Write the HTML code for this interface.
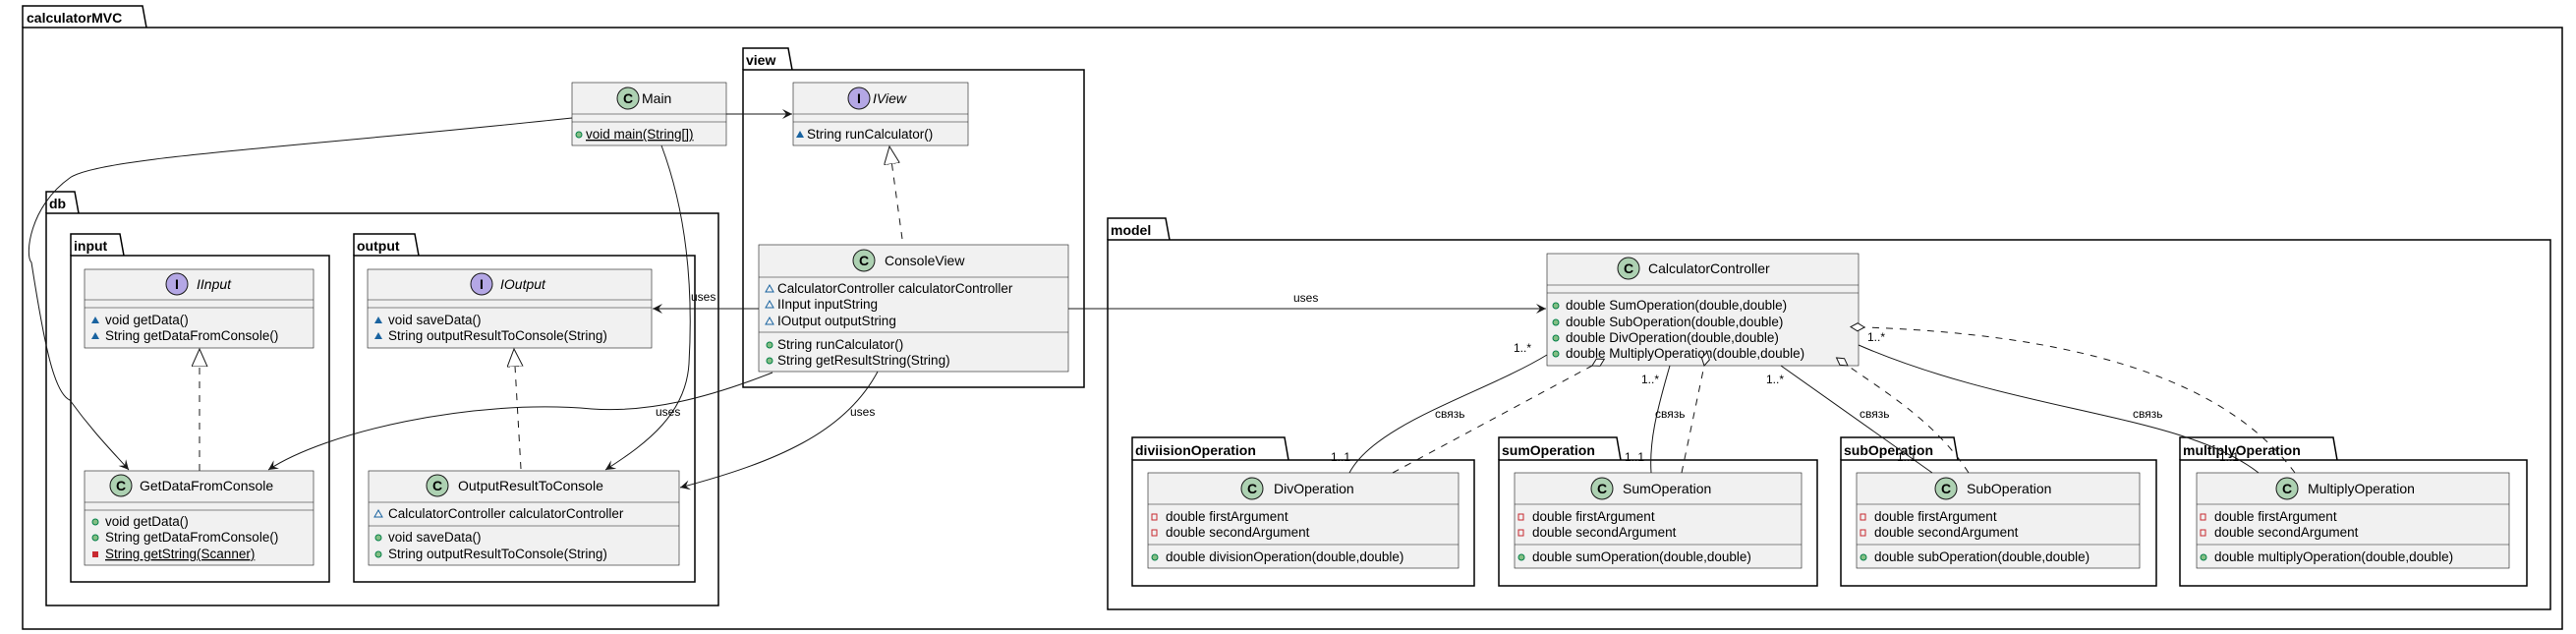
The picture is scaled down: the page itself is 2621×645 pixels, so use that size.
<!DOCTYPE html>
<html><head><meta charset="utf-8"><style>
html,body{margin:0;padding:0;background:#fff;}
svg{display:block;font-family:"Liberation Sans","DejaVu Sans",sans-serif;}
.pk{fill:none;stroke:#000;stroke-width:1.5;}
.pt{font-weight:bold;font-size:14px;fill:#000;}
.bx{fill:#F1F1F1;stroke:#181818;stroke-width:0.6;}
.sp{stroke:#181818;stroke-width:0.6;}
.cn{font-size:14px;fill:#000;}
.m{font-size:13.5px;fill:#000;}
.ln{fill:none;stroke:#181818;stroke-width:1;}
.dl{fill:none;stroke:#181818;stroke-width:1;stroke-dasharray:7,7;}
.lb{font-size:12px;fill:#000;}
.pub{fill:#84BE84;stroke:#038048;stroke-width:1;}
.prv{fill:none;stroke:#C82930;stroke-width:1;}
</style></head><body>
<svg width="2621" height="645" viewBox="0 0 2621 645" xmlns="http://www.w3.org/2000/svg">
<defs>
<marker id="ar" markerWidth="12" markerHeight="12" refX="10" refY="5" orient="auto" markerUnits="userSpaceOnUse"><path d="M0,0 L10,5 L0,10 L4,5 Z" fill="#181818"/></marker>
<marker id="tri" markerWidth="22" markerHeight="22" refX="18" refY="8" orient="auto" markerUnits="userSpaceOnUse"><path d="M0,0 L18,8 L0,16 Z" fill="#fff" stroke="#181818"/></marker>
<marker id="dia" markerWidth="22" markerHeight="14" refX="1" refY="5" orient="auto" markerUnits="userSpaceOnUse"><path d="M1,5 L8,1 L15,5 L8,9 Z" fill="#fff" stroke="#181818"/></marker>
</defs>

<!-- packages -->
<path class="pk" d="M23,28 L23,6 L145,6 L149,28"/><rect class="pk" x="23" y="28" width="2584" height="612"/><text class="pt" x="27" y="23">calculatorMVC</text>
<path class="pk" d="M756,71 L756,49 L802,49 L806,71"/><rect class="pk" x="756" y="71" width="347" height="323"/><text class="pt" x="759" y="66">view</text>
<path class="pk" d="M47,217 L47,195 L76,195 L80,217"/><rect class="pk" x="47" y="217" width="684" height="399"/><text class="pt" x="50" y="212">db</text>
<path class="pk" d="M72,260 L72,238 L122,238 L126,260"/><rect class="pk" x="72" y="260" width="263" height="332"/><text class="pt" x="75" y="255">input</text>
<path class="pk" d="M360,260 L360,238 L422,238 L426,260"/><rect class="pk" x="360" y="260" width="347" height="332"/><text class="pt" x="363" y="255">output</text>
<path class="pk" d="M1127,244 L1127,222 L1186,222 L1190,244"/><rect class="pk" x="1127" y="244" width="1468" height="376"/><text class="pt" x="1130" y="239">model</text>
<path class="pk" d="M1152,468 L1152,445 L1307,445 L1311,468"/><rect class="pk" x="1152" y="468" width="348" height="128"/><text class="pt" x="1155" y="463">diviisionOperation</text>
<path class="pk" d="M1525,468 L1525,445 L1645,445 L1649,468"/><rect class="pk" x="1525" y="468" width="324" height="128"/><text class="pt" x="1528" y="463">sumOperation</text>
<path class="pk" d="M1873,468 L1873,445 L1988,445 L1992,468"/><rect class="pk" x="1873" y="468" width="321" height="128"/><text class="pt" x="1876" y="463">subOperation</text>
<path class="pk" d="M2218,468 L2218,445 L2374,445 L2378,468"/><rect class="pk" x="2218" y="468" width="353" height="128"/><text class="pt" x="2221" y="463">multiplyOperation</text>

<!-- Main -->
<rect class="bx" x="582" y="84" width="157" height="64"/><line class="sp" x1="582" y1="116" x2="739" y2="116"/><line class="sp" x1="582" y1="124" x2="739" y2="124"/>
<circle cx="639" cy="100" r="11" fill="#ADD1B2" stroke="#181818"/><text x="639" y="105" text-anchor="middle" font-size="14" font-weight="bold">C</text>
<text class="cn" x="653" y="105">Main</text>
<circle class="pub" cx="589" cy="137" r="3"/><text class="m" x="596" y="141" text-decoration="underline">void main(String[])</text>

<!-- IView -->
<rect class="bx" x="807" y="84" width="178" height="64"/><line class="sp" x1="807" y1="116" x2="985" y2="116"/><line class="sp" x1="807" y1="124" x2="985" y2="124"/>
<circle cx="874" cy="100" r="11" fill="#B4A7E5" stroke="#181818"/><text x="874" y="105" text-anchor="middle" font-size="14" font-weight="bold">I</text>
<text class="cn" x="888" y="105" font-style="italic">IView</text>
<path d="M810,140 L814,133 L818,140 Z" fill="#1963A0"/><text class="m" x="821" y="141">String runCalculator()</text>

<!-- ConsoleView -->
<rect class="bx" x="772" y="249" width="315" height="129"/><line class="sp" x1="772" y1="282" x2="1087" y2="282"/><line class="sp" x1="772" y1="338" x2="1087" y2="338"/>
<circle cx="879" cy="265" r="11" fill="#ADD1B2" stroke="#181818"/><text x="879" y="270" text-anchor="middle" font-size="14" font-weight="bold">C</text>
<text class="cn" x="900" y="270">ConsoleView</text>
<path d="M779,297 L783,290 L787,297 Z" fill="none" stroke="#1963A0"/><text class="m" x="791" y="298">CalculatorController calculatorController</text>
<path d="M779,313 L783,306 L787,313 Z" fill="none" stroke="#1963A0"/><text class="m" x="791" y="314">IInput inputString</text>
<path d="M779,330 L783,323 L787,330 Z" fill="none" stroke="#1963A0"/><text class="m" x="791" y="331">IOutput outputString</text>
<circle class="pub" cx="783" cy="351" r="3"/><text class="m" x="791" y="355">String runCalculator()</text>
<circle class="pub" cx="783" cy="367" r="3"/><text class="m" x="791" y="371">String getResultString(String)</text>

<!-- IInput -->
<rect class="bx" x="86" y="274" width="233" height="80"/><line class="sp" x1="86" y1="305" x2="319" y2="305"/><line class="sp" x1="86" y1="313" x2="319" y2="313"/>
<circle cx="180" cy="289" r="11" fill="#B4A7E5" stroke="#181818"/><text x="180" y="294" text-anchor="middle" font-size="14" font-weight="bold">I</text>
<text class="cn" x="200" y="294" font-style="italic">IInput</text>
<path d="M93,329 L97,322 L101,329 Z" fill="#1963A0"/><text class="m" x="107" y="330">void getData()</text>
<path d="M93,345 L97,338 L101,345 Z" fill="#1963A0"/><text class="m" x="107" y="346">String getDataFromConsole()</text>

<!-- IOutput -->
<rect class="bx" x="374" y="274" width="289" height="80"/><line class="sp" x1="374" y1="305" x2="663" y2="305"/><line class="sp" x1="374" y1="313" x2="663" y2="313"/>
<circle cx="490" cy="289" r="11" fill="#B4A7E5" stroke="#181818"/><text x="490" y="294" text-anchor="middle" font-size="14" font-weight="bold">I</text>
<text class="cn" x="509" y="294" font-style="italic">IOutput</text>
<path d="M381,329 L385,322 L389,329 Z" fill="#1963A0"/><text class="m" x="395" y="330">void saveData()</text>
<path d="M381,345 L385,338 L389,345 Z" fill="#1963A0"/><text class="m" x="395" y="346">String outputResultToConsole(String)</text>

<!-- GetDataFromConsole -->
<rect class="bx" x="86" y="479" width="233" height="96"/><line class="sp" x1="86" y1="511" x2="319" y2="511"/><line class="sp" x1="86" y1="519" x2="319" y2="519"/>
<circle cx="123" cy="494" r="11" fill="#ADD1B2" stroke="#181818"/><text x="123" y="499" text-anchor="middle" font-size="14" font-weight="bold">C</text>
<text class="cn" x="142" y="499">GetDataFromConsole</text>
<circle class="pub" cx="97" cy="531" r="3"/><text class="m" x="107" y="535">void getData()</text>
<circle class="pub" cx="97" cy="547" r="3"/><text class="m" x="107" y="551">String getDataFromConsole()</text>
<rect x="94" y="561" width="6" height="6" fill="#C82930"/><text class="m" x="107" y="568" text-decoration="underline">String getString(Scanner)</text>

<!-- OutputResultToConsole -->
<rect class="bx" x="375" y="479" width="316" height="96"/><line class="sp" x1="375" y1="511" x2="691" y2="511"/><line class="sp" x1="375" y1="535" x2="691" y2="535"/>
<circle cx="445" cy="494" r="11" fill="#ADD1B2" stroke="#181818"/><text x="445" y="499" text-anchor="middle" font-size="14" font-weight="bold">C</text>
<text class="cn" x="466" y="499">OutputResultToConsole</text>
<path d="M381,526 L385,519 L389,526 Z" fill="none" stroke="#1963A0"/><text class="m" x="395" y="527">CalculatorController calculatorController</text>
<circle class="pub" cx="385" cy="547" r="3"/><text class="m" x="395" y="551">void saveData()</text>
<circle class="pub" cx="385" cy="564" r="3"/><text class="m" x="395" y="568">String outputResultToConsole(String)</text>

<!-- CalculatorController -->
<rect class="bx" x="1574" y="258" width="317" height="114"/><line class="sp" x1="1574" y1="290" x2="1891" y2="290"/><line class="sp" x1="1574" y1="298" x2="1891" y2="298"/>
<circle cx="1657" cy="273" r="11" fill="#ADD1B2" stroke="#181818"/><text x="1657" y="278" text-anchor="middle" font-size="14" font-weight="bold">C</text>
<text class="cn" x="1677" y="278">CalculatorController</text>
<circle class="pub" cx="1583" cy="311" r="3"/><text class="m" x="1593" y="315">double SumOperation(double,double)</text>
<circle class="pub" cx="1583" cy="328" r="3"/><text class="m" x="1593" y="332">double SubOperation(double,double)</text>
<circle class="pub" cx="1583" cy="344" r="3"/><text class="m" x="1593" y="348">double DivOperation(double,double)</text>
<circle class="pub" cx="1583" cy="360" r="3"/><text class="m" x="1593" y="364">double MultiplyOperation(double,double)</text>

<!-- Div -->
<rect class="bx" x="1168" y="481" width="316" height="97"/><line class="sp" x1="1168" y1="513" x2="1484" y2="513"/><line class="sp" x1="1168" y1="554" x2="1484" y2="554"/>
<circle cx="1274" cy="497" r="11" fill="#ADD1B2" stroke="#181818"/><text x="1274" y="502" text-anchor="middle" font-size="14" font-weight="bold">C</text>
<text class="cn" x="1296" y="502">DivOperation</text>
<rect class="prv" x="1172" y="523" width="5" height="6"/><text class="m" x="1186" y="530">double firstArgument</text>
<rect class="prv" x="1172" y="539" width="5" height="6"/><text class="m" x="1186" y="546">double secondArgument</text>
<circle class="pub" cx="1175" cy="567" r="3"/><text class="m" x="1186" y="571">double divisionOperation(double,double)</text>

<!-- Sum -->
<rect class="bx" x="1541" y="481" width="292" height="97"/><line class="sp" x1="1541" y1="513" x2="1833" y2="513"/><line class="sp" x1="1541" y1="554" x2="1833" y2="554"/>
<circle cx="1630" cy="497" r="11" fill="#ADD1B2" stroke="#181818"/><text x="1630" y="502" text-anchor="middle" font-size="14" font-weight="bold">C</text>
<text class="cn" x="1651" y="502">SumOperation</text>
<rect class="prv" x="1545" y="523" width="5" height="6"/><text class="m" x="1559" y="530">double firstArgument</text>
<rect class="prv" x="1545" y="539" width="5" height="6"/><text class="m" x="1559" y="546">double secondArgument</text>
<circle class="pub" cx="1548" cy="567" r="3"/><text class="m" x="1559" y="571">double sumOperation(double,double)</text>

<!-- Sub -->
<rect class="bx" x="1889" y="481" width="288" height="97"/><line class="sp" x1="1889" y1="513" x2="2177" y2="513"/><line class="sp" x1="1889" y1="554" x2="2177" y2="554"/>
<circle cx="1980" cy="497" r="11" fill="#ADD1B2" stroke="#181818"/><text x="1980" y="502" text-anchor="middle" font-size="14" font-weight="bold">C</text>
<text class="cn" x="2001" y="502">SubOperation</text>
<rect class="prv" x="1893" y="523" width="5" height="6"/><text class="m" x="1907" y="530">double firstArgument</text>
<rect class="prv" x="1893" y="539" width="5" height="6"/><text class="m" x="1907" y="546">double secondArgument</text>
<circle class="pub" cx="1896" cy="567" r="3"/><text class="m" x="1907" y="571">double subOperation(double,double)</text>

<!-- Multiply -->
<rect class="bx" x="2235" y="481" width="318" height="97"/><line class="sp" x1="2235" y1="513" x2="2553" y2="513"/><line class="sp" x1="2235" y1="554" x2="2553" y2="554"/>
<circle cx="2327" cy="497" r="11" fill="#ADD1B2" stroke="#181818"/><text x="2327" y="502" text-anchor="middle" font-size="14" font-weight="bold">C</text>
<text class="cn" x="2348" y="502">MultiplyOperation</text>
<rect class="prv" x="2239" y="523" width="5" height="6"/><text class="m" x="2253" y="530">double firstArgument</text>
<rect class="prv" x="2239" y="539" width="5" height="6"/><text class="m" x="2253" y="546">double secondArgument</text>
<circle class="pub" cx="2242" cy="567" r="3"/><text class="m" x="2253" y="571">double multiplyOperation(double,double)</text>

<!-- edges view/db -->
<path class="ln" d="M739,116 L806,116" marker-end="url(#ar)"/>
<path class="ln" d="M582,120 C300,150 100,160 71,181 C30,210 25,260 32,267 C45,350 55,400 71,407 C95,440 115,460 131,478" marker-end="url(#ar)"/>
<path class="ln" d="M673,148 C700,220 705,300 701,370 C698,420 660,450 616,478" marker-end="url(#ar)"/>
<text class="lb" x="667" y="423">uses</text>
<path class="dl" d="M918,243 L905,149" marker-end="url(#tri)"/>
<path class="ln" d="M772,314 L664,314" marker-end="url(#ar)"/>
<text class="lb" x="703" y="306">uses</text>
<path class="ln" d="M786,379 C720,405 660,420 602,416 C480,405 330,440 273,478" marker-end="url(#ar)"/>
<path class="ln" d="M893,378 C860,440 790,470 692,496" marker-end="url(#ar)"/>
<text class="lb" x="865" y="423">uses</text>
<path class="dl" d="M203,479 L203,355" marker-end="url(#tri)"/>
<path class="dl" d="M530,477 L523,355" marker-end="url(#tri)"/>
<path class="ln" d="M1087,314 L1573,314" marker-end="url(#ar)"/>
<text class="lb" x="1316" y="307">uses</text>

<!-- model edges -->
<path class="ln" d="M1574,361 C1510,400 1400,430 1373,481"/>
<text class="lb" x="1540" y="358">1..*</text><text class="lb" x="1354" y="469">1..1</text><text class="lb" x="1460" y="425">связь</text>
<path class="dl" d="M1417,481 L1620,372" marker-end="url(#dia)"/>
<path class="ln" d="M1699,372 C1685,420 1678,450 1680,481"/>
<text class="lb" x="1670" y="390">1..*</text><text class="lb" x="1653" y="469">1..1</text><text class="lb" x="1684" y="425">связь</text>
<path class="dl" d="M1711,481 L1734,372" marker-end="url(#dia)"/>
<path class="ln" d="M1812,372 L1966,481"/>
<text class="lb" x="1797" y="390">1..*</text><text class="lb" x="1930" y="469">1..1</text><text class="lb" x="1892" y="425">связь</text>
<path class="dl" d="M2003,481 C1970,430 1920,400 1880,372" marker-end="url(#dia)"/>
<path class="ln" d="M1891,351 C2050,420 2220,420 2298,481"/>
<text class="lb" x="1900" y="347">1..*</text><text class="lb" x="2258" y="469">1..1</text><text class="lb" x="2170" y="425">связь</text>
<path class="dl" d="M2335,481 C2260,380 2100,340 1897,333" marker-end="url(#dia)"/>
</svg>
</body></html>
